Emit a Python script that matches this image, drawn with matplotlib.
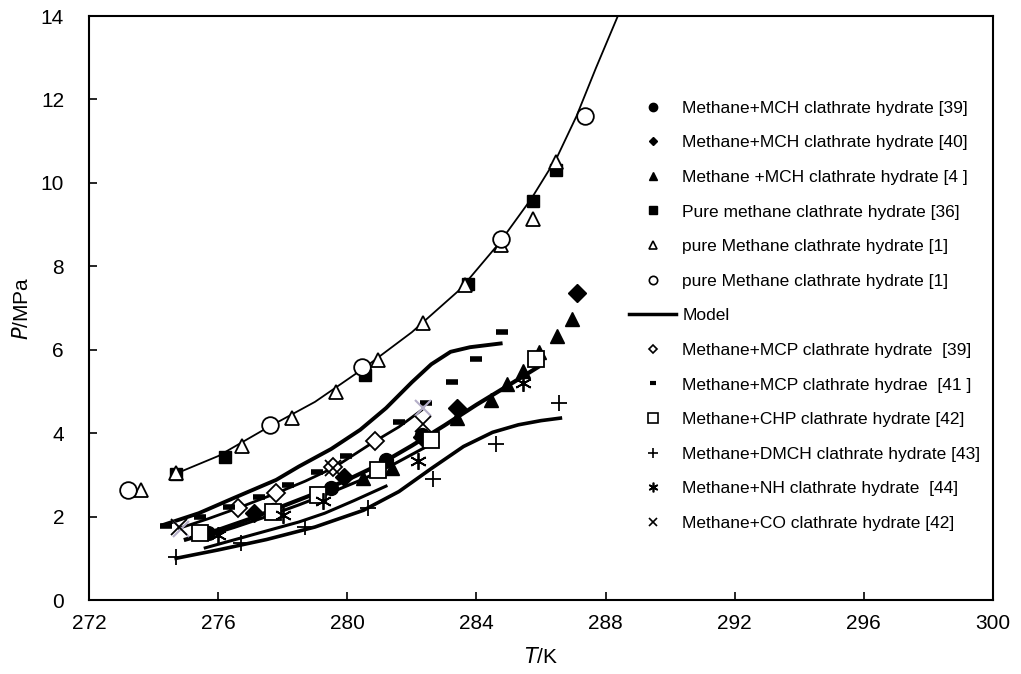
import matplotlib
matplotlib.use('Agg')
import matplotlib.pyplot as plt
from matplotlib.lines import Line2D

plt.rcParams['font.family'] = ['Liberation Sans', 'DejaVu Sans']

# experimental data (T in K, P in MPa)
mch39_T = [275.7, 277.7, 279.5, 281.2, 282.3]
mch39_P = [1.60, 2.15, 2.69, 3.36, 3.95]
mch40_T = [277.1, 279.9, 282.3, 283.4, 287.1]
mch40_P = [2.08, 2.95, 3.91, 4.60, 7.37]
mch4_T = [280.5, 281.4, 283.4, 284.45, 284.95, 285.45, 285.95, 286.5, 286.95]
mch4_P = [2.92, 3.16, 4.36, 4.80, 5.18, 5.49, 5.95, 6.33, 6.74]
pure36_T = [274.7, 276.2, 280.55, 283.75, 285.75, 286.45]
pure36_P = [3.03, 3.43, 5.39, 7.58, 9.57, 10.31]
pure1a_T = [273.6, 274.7, 276.75, 278.3, 279.65, 280.95, 282.35, 283.65, 284.75, 285.75, 286.45]
pure1a_P = [2.64, 3.04, 3.69, 4.36, 4.99, 5.75, 6.63, 7.55, 8.50, 9.13, 10.50]
pure1b_T = [273.2, 277.6, 280.45, 284.75, 287.35]
pure1b_P = [2.64, 4.19, 5.58, 8.65, 11.60]
mcp39_T = [276.6, 277.8, 279.55, 280.85]
mcp39_P = [2.20, 2.56, 3.18, 3.80]
mcp41_T = [274.4, 275.45, 276.35, 277.25, 278.15, 279.05, 279.95, 281.6, 282.45, 283.25, 284.0, 284.8]
mcp41_P = [1.77, 2.00, 2.23, 2.48, 2.76, 3.07, 3.45, 4.27, 4.72, 5.23, 5.78, 6.42]
chp42_T = [275.45, 277.7, 279.1, 280.95, 282.6, 285.85]
chp42_P = [1.60, 2.10, 2.52, 3.12, 3.84, 5.78]
dmch43_T = [274.7, 276.7, 278.7, 280.65, 282.65, 284.6, 286.55]
dmch43_P = [1.04, 1.37, 1.75, 2.20, 2.90, 3.74, 4.72]
nh44_T = [276.0, 278.0, 279.25, 282.2, 285.45]
nh44_P = [1.57, 2.04, 2.37, 3.33, 5.20]
co42_T = [274.8, 279.55, 282.35]
co42_P = [1.75, 3.16, 4.22]
co42_grey_T = [274.85, 282.35]
co42_grey_P = [1.70, 4.60]

# model curves
pure_model_T = [274.6, 276.0, 277.5, 279.0, 280.5, 282.0, 283.5, 284.7, 285.7, 286.5, 287.1, 287.7, 288.38]
pure_model_P = [3.00, 3.45, 4.12, 4.75, 5.55, 6.42, 7.45, 8.55, 9.62, 10.62, 11.6, 12.75, 14.0]
mcp41_model_T = [274.3, 275.4, 276.5, 277.8, 278.5, 279.5, 280.4, 281.2, 282.0, 282.6, 283.2, 283.8, 284.75]
mcp41_model_P = [1.80, 2.08, 2.45, 2.88, 3.20, 3.62, 4.08, 4.60, 5.22, 5.65, 5.95, 6.06, 6.15]
mcp39_model_T = [274.8, 275.7, 276.6, 277.8, 278.7, 279.6, 280.8, 281.6, 282.3]
mcp39_model_P = [1.72, 1.95, 2.20, 2.56, 2.85, 3.18, 3.78, 4.15, 4.55]
mch_model_T = [275.0, 276.0, 277.0, 278.0, 279.0, 280.0, 281.0, 282.0, 283.0, 284.0, 285.0, 285.9]
mch_model_P = [1.45, 1.68, 1.95, 2.25, 2.55, 2.88, 3.25, 3.70, 4.18, 4.68, 5.15, 5.58]
chp_model_T = [275.5, 276.5, 277.5, 278.5, 279.5, 280.5, 281.5, 282.7]
chp_model_P = [1.50, 1.74, 2.00, 2.28, 2.58, 2.90, 3.28, 3.78]
nh_model_T = [275.6, 277.0, 278.5, 279.3, 280.2, 281.2]
nh_model_P = [1.25, 1.55, 1.87, 2.08, 2.38, 2.73]
dmch_model_T = [274.7, 276.0, 277.5, 279.0, 280.5, 281.6, 282.6, 283.6, 284.5, 285.3, 286.0, 286.6]
dmch_model_P = [1.00, 1.20, 1.45, 1.75, 2.15, 2.60, 3.15, 3.68, 4.02, 4.20, 4.30, 4.36]

fig = plt.figure(figsize=(10.21, 6.74), dpi=100)
ax = fig.add_axes([89/1021, 74/674, 904/1021, 584/674])

# model lines
ax.plot(pure_model_T, pure_model_P, color='black', lw=1.3, zorder=2)
ax.plot(mcp41_model_T, mcp41_model_P, color='black', lw=2.8, zorder=2)
ax.plot(mcp39_model_T, mcp39_model_P, color='black', lw=2.0, zorder=2)
ax.plot(mch_model_T, mch_model_P, color='black', lw=3.0, zorder=2)
ax.plot(chp_model_T, chp_model_P, color='black', lw=2.2, zorder=2)
ax.plot(nh_model_T, nh_model_P, color='black', lw=2.2, zorder=2)
ax.plot(dmch_model_T, dmch_model_P, color='black', lw=2.6, zorder=2)

k = dict(ls='none', color='black', zorder=3)
ax.plot(mch39_T, mch39_P, marker='o', ms=10, **k)
ax.plot(mch40_T, mch40_P, marker='D', ms=9, **k)
ax.plot(mch4_T, mch4_P, marker='^', ms=10, **k)
ax.plot(pure36_T, pure36_P, marker='s', ms=9, **k)
ax.plot(pure1a_T, pure1a_P, marker='^', ms=10, mfc='white', mew=1.3, **k)
ax.plot(pure1b_T, pure1b_P, marker='o', ms=12, mfc='white', mew=1.3, **k)
ax.plot(mcp39_T, mcp39_P, marker='D', ms=9, mfc='white', mew=1.3, **k)
ax.plot(mcp41_T, mcp41_P, marker='_', ms=8, mew=4, **k)
ax.plot(chp42_T, chp42_P, marker='s', ms=11, mfc='white', mew=1.3, **k)
ax.plot(dmch43_T, dmch43_P, marker='+', ms=11, mew=1.3, **k)
ax.plot(nh44_T, nh44_P, marker=(6, 2, 0), ms=12, mew=1.3, **k)
ax.plot(co42_grey_T, co42_grey_P, ls='none', marker='x', ms=12, mew=1.5, color='#b4aec8', zorder=3)
ax.plot(co42_T, co42_P, marker='x', ms=12, mew=1.3, **k)

ax.set_xlim(272, 300)
ax.set_ylim(0, 14)
ax.set_xticks(range(272, 301, 4))
ax.set_yticks(range(0, 15, 2))
ax.tick_params(direction='in', length=6, width=1.2, labelsize=15, top=False, right=False)
ax.tick_params(axis='y', pad=18)
ax.tick_params(axis='x', pad=10)
for s in ax.spines.values():
    s.set_linewidth(1.5)

ax.set_xlabel(r'$\it{T}$/K', fontsize=15, labelpad=10)
ax.set_ylabel(r'$\it{P}$/MPa', fontsize=15, labelpad=6)

labels = [
    'Methane+MCH clathrate hydrate [39]',
    'Methane+MCH clathrate hydrate [40]',
    'Methane +MCH clathrate hydrate [4 ]',
    'Pure methane clathrate hydrate [36]',
    'pure Methane clathrate hydrate [1]',
    'pure Methane clathrate hydrate [1]',
    'Model',
    'Methane+MCP clathrate hydrate  [39]',
    'Methane+MCP clathrate hydrae  [41 ]',
    'Methane+CHP clathrate hydrate [42]',
    'Methane+DMCH clathrate hydrate [43]',
    'Methane+NH clathrate hydrate  [44]',
    'Methane+CO clathrate hydrate [42]',
]
h = dict(ls='none', color='black')
handles = [
    Line2D([], [], marker='o', ms=6, **h),
    Line2D([], [], marker='D', ms=4.5, **h),
    Line2D([], [], marker='^', ms=5.5, **h),
    Line2D([], [], marker='s', ms=6, **h),
    Line2D([], [], marker='^', ms=5.5, mfc='white', mew=1.2, **h),
    Line2D([], [], marker='o', ms=6, mfc='white', mew=1.2, **h),
    Line2D([], [], color='black', lw=2.5),
    Line2D([], [], marker='D', ms=4.5, mfc='white', mew=1.2, **h),
    Line2D([], [], marker='_', ms=5, mew=3, **h),
    Line2D([], [], marker='s', ms=6.5, mfc='white', mew=1.2, **h),
    Line2D([], [], marker='+', ms=7, mew=1.2, **h),
    Line2D([], [], marker=(6, 2, 0), ms=7, mew=1.2, **h),
    Line2D([], [], marker='x', ms=6, mew=1.2, **h),
]
ax.legend(handles, labels, loc='upper left', bbox_to_anchor=(0.59, 0.867),
          frameon=False, fontsize=12.5, handlelength=2.7, handletextpad=0.35,
          labelspacing=1.12, borderaxespad=0)

fig.savefig('out.png', dpi=100)
